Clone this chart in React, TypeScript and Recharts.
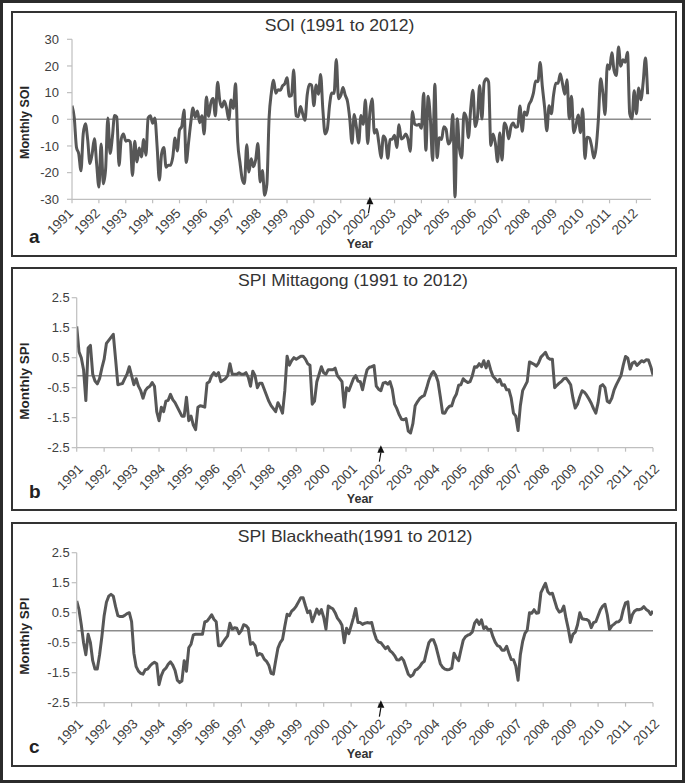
import React from "react";
import { LineChart, Line, XAxis, YAxis, ReferenceLine, ReferenceDot } from "recharts";

// year labels on the category axis, one every 12 monthly points
const years = [
  "1991", "1992", "1993", "1994", "1995", "1996", "1997", "1998", "1999", "2000", "2001",
  "2002", "2003", "2004", "2005", "2006", "2007", "2008", "2009", "2010", "2011", "2012",
];
const yearTicks = [0, 12, 24, 36, 48, 60, 72, 84, 96, 108, 120, 132, 144, 156, 168, 180, 192, 204, 216, 228, 240, 252];

// panel a: monthly SOI
const soiA = [
  5.1, 0.6, -10.6, -12.9, -19.3, -5.5, -1.7, -7.6, -16.6, -12.9, -7.3, -16.7,
  -25.4, -9.3, -24.2, -18.7, 0.5, -12.8, -6.9, 1.4, 0.8, -17.3, -7.3, -5.5,
  -8.2, -7.9, -8.5, -21.1, -8.2, -16.0, -10.8, -14.1, -7.6, -13.5, 0.6, 1.3,
  -1.5, 0.5, -10.2, -22.8, -12.9, -10.6, -18.0, -17.2, -17.2, -14.1, -7.0, -11.9,
  -4.0, -2.7, 3.5, -16.2, -9.0, -1.5, 4.2, 0.8, 3.1, -1.3, 1.3, -5.5,
  8.4, 1.1, 6.2, 7.8, 1.3, 13.9, 6.8, 4.6, 6.9, 4.2, -0.1, 7.2,
  4.1, 13.3, -8.5, -16.2, -22.4, -24.1, -9.5, -19.8, -14.8, -17.8, -15.2, -9.1,
  -23.5, -19.2, -28.5, -24.4, 0.5, 9.9, 14.6, 9.8, 11.1, 10.9, 12.5, 13.3,
];
const soiB = [
  15.6, 8.6, 8.9, 18.5, 1.3, 1.0, 4.8, 2.1, -0.4, 9.1, 13.1, 12.8,
  5.1, 12.9, 9.4, 16.8, 3.6, -5.5, -3.7, 5.3, 9.9, 9.7, 22.4, 7.7,
  8.9, 11.9, 9.0, 6.7, 0.3, -9.0, 1.8, -3.0, -8.9, 1.4, -1.9, 7.2,
  -9.1, 2.7, 7.7, -5.2, -3.8, -9.0, -14.5, -6.3, -7.6, -14.6, -7.6, -7.4,
  -6.0, -10.6, -2.0, -7.4, -6.8, -5.5, -7.4, -12.0, 2.9, -1.8, -2.2, -1.9,
  -3.4, 9.8, -11.6, 8.6, 0.2, -15.4, 13.1, -14.4, -6.9, -7.6, -2.8, -3.7,
  -9.3, -8.0, 1.8, -29.1, 0.2, -11.2, -14.5, 2.4, 0.8, -6.9, 3.9, 10.9,
];
const soiC = [
  -2.7, 0.6, 12.7, 0.1, 13.8, 15.2, 14.0, -9.8, -5.5, -8.9, -15.9, -5.1,
  -15.3, -1.4, -3.0, -7.3, -2.7, -1.4, -3.0, -2.7, 5.0, -4.5, 2.7, 1.5,
  5.4, 7.0, 9.8, 14.4, 14.1, 21.3, 12.2, 4.5, -4.3, 5.1, 2.1, 9.1,
  13.5, 13.5, 17.1, 13.3, 9.4, 14.8, 0.2, 8.6, -5.0, -2.3, 1.6, -5.0,
  3.9, -14.7, -6.7, -7.0, -10.1, -14.5, -10.6, 0.0, 15.2, 10.0, 1.8, 20.5,
  18.8, 25.0, 18.3, 16.4, 27.1, 19.9, 22.3, 21.4, 25.1, 2.1, 0.2, 10.7,
  2.1, 11.7, 7.3, 13.8, 23.0, 9.4,
];

// panel b: SPI Mittagong
const mitA = [
  1.54, 0.7, 0.5, 0.1, -0.93, 0.82, 0.91, -0.05, -0.28, -0.37, -0.2, 0.15,
  0.45, 0.98, 1.08, 1.18, 1.28, 0.45, -0.4, -0.38, -0.36, -0.2, -0.05, 0.2,
  -0.1, -0.4, -0.2, -0.45, -0.6, -0.85, -0.6, -0.5, -0.45, -0.33, -0.45, -1.3,
  -1.6, -1.15, -1.3, -0.95, -0.92, -0.72, -0.9, -1.0, -1.15, -1.3, -1.45, -1.45,
  -0.82, -1.6, -1.45, -1.75, -1.9, -1.15, -1.1, -1.12, -1.15, -0.35, -0.3, -0.1,
  0.0, -0.1, 0.0, -0.3, -0.25, -0.2, -0.1, 0.3, -0.05, -0.05, -0.05, 0.0,
  -0.05, -0.05, 0.0, -0.15, -0.45, 0.05, -0.1, -0.5, -0.35, -0.35, -0.55, -0.75,
  -0.95, -1.1, -1.2, -1.3, -1.0, -1.15, -1.35, -0.6, 0.55, 0.25, 0.4, 0.5,
];
const mitB = [
  0.45, 0.5, 0.55, 0.55, 0.45, 0.3, 0.25, -1.05, -0.95, -0.3, -0.05, 0.2,
  0.0, -0.05, 0.1, 0.1, 0.1, 0.15, -0.1, -0.2, -0.3, -1.15, -0.5, -0.6,
  -0.4, -0.2, -0.1, -0.28, -0.3, -0.57, -0.2, 0.1, 0.18, 0.2, 0.24, -0.45,
  -0.55, -0.6, -0.35, -0.32, -0.38, -0.3, -0.55, -1.05, -1.2, -1.4, -1.55, -1.57,
  -1.53, -1.95, -2.01, -1.7, -1.1, -0.97, -0.86, -0.8, -0.76, -0.52, -0.25, -0.06,
  0.04, -0.08, -0.3, -0.8, -1.34, -1.35, -1.2, -1.12, -1.1, -0.86, -0.72, -0.42,
  -0.4, -0.2, -0.28, -0.33, -0.3, -0.1, 0.2, 0.18, 0.3, 0.2, 0.4, 0.16,
];
const mitC = [
  0.38, 0.1, -0.12, -0.2, -0.31, -0.22, -0.42, -0.4, -0.57, -0.57, -0.85, -1.35,
  -1.45, -1.93, -1.1, -0.6, -0.45, -0.3, 0.36, 0.32, 0.28, 0.22, 0.33, 0.52,
  0.6, 0.68, 0.5, 0.45, 0.45, -0.5, -0.42, -0.35, -0.29, -0.2, -0.18, -0.28,
  -0.4, -0.85, -1.18, -1.05, -0.8, -0.6, -0.65, -0.75, -0.88, -1.02, -1.2, -1.35,
  -1.0, -0.45, -0.4, -0.5, -0.95, -1.0, -0.85, -0.57, -0.4, -0.25, -0.1, 0.25,
  0.54, 0.48, 0.12, 0.32, 0.36, 0.24, 0.32, 0.4, 0.36, 0.43, 0.42, 0.21, -0.07,
];

// panel c: SPI Blackheath
const blkA = [
  0.89, 0.6, 0.1, -0.5, -0.9, -0.22, -0.5, -1.1, -1.38, -1.38, -0.9, -0.3,
  0.4, 0.85, 1.05, 1.11, 1.05, 0.7, 0.4, 0.37, 0.37, 0.41, 0.47, 0.5,
  0.2, -0.85, -1.3, -1.45, -1.52, -1.55, -1.4, -1.38, -1.28, -1.2, -1.15, -1.2,
  -1.9, -1.6, -1.42, -1.35, -1.22, -1.14, -1.25, -1.42, -1.75, -1.83, -1.78, -1.1,
  -1.45, -0.67, -0.55, -0.24, -0.22, -0.22, -0.22, -0.22, 0.19, 0.22, 0.32, 0.43,
  0.28, 0.2, -0.6, -0.6, -0.48, -0.37, -0.27, 0.15, -0.05, 0.0, -0.02, -0.2,
  -0.1, 0.1, 0.07, -0.02, -0.55, -0.5, -0.6, -0.92, -0.86, -0.9, -1.05, -1.12,
  -1.25, -1.52, -1.55, -1.1, -0.68, -0.5, -0.39, 0.05, 0.45, 0.4, 0.55, 0.62,
];
const blkB = [
  0.72, 0.86, 1.0, 1.0, 0.74, 0.5, 0.56, 0.2, 0.4, 0.62, 0.45, 0.6,
  0.35, -0.05, 0.72, 0.67, 0.63, 0.5, 0.32, 0.22, 0.08, -0.5, -0.02, -0.2,
  0.06, 0.33, 0.64, 0.17, 0.17, 0.11, 0.15, 0.17, 0.16, 0.17, -0.15, -0.38,
  -0.48, -0.5, -0.6, -0.7, -0.63, -0.77, -0.83, -0.93, -1.07, -1.08, -1.0, -1.1,
  -1.33, -1.55, -1.63, -1.58, -1.42, -1.38, -1.3, -1.18, -1.12, -0.8, -0.5, -0.4,
  -0.4, -0.6, -0.9, -1.2, -1.32, -1.38, -1.4, -1.39, -1.35, -0.85, -1.0, -1.1,
  -0.75, -0.42, -0.3, -0.25, -0.22, -0.14, 0.15, 0.26, 0.11, 0.26, -0.03, 0.03,
];
const blkC = [
  -0.08, -0.05, -0.3, -0.48, -0.6, -0.63, -0.75, -0.75, -0.62, -0.85, -1.06, -1.07,
  -1.28, -1.75, -0.9, -0.46, -0.19, -0.08, 0.5, 0.48, 0.6, 0.48, 0.5, 1.17,
  1.33, 1.48, 1.2, 1.12, 1.15, 0.9, 0.65, 0.52, 0.55, 0.72, 0.3, -0.05,
  -0.48, -0.22, -0.15, 0.1, 0.5, 0.3, 0.28, 0.27, 0.22, 0.0, 0.17, 0.2,
  0.4, 0.6, 0.72, 0.78, 0.44, -0.06, 0.06, 0.12, 0.19, 0.2, 0.28, 0.6,
  0.83, 0.86, 0.17, 0.44, 0.56, 0.61, 0.6, 0.63, 0.7, 0.61, 0.56, 0.44, 0.56,
];

const soiTicks = [-30, -20, -10, 0, 10, 20, 30];
const spiTicks = [-2.5, -1.5, -0.5, 0.5, 1.5, 2.5];

const FONT = "'Liberation Sans', Arial, sans-serif";
const LINE = "#575757";
const AXIS = "#bfbfbf";
const W = 685;
const H = 783;

const toRows = (vals: number[]) => vals.map((v, i) => ({ i, v }));

function makeYearTick(dx: number, dy: number) {
  return function YearTick(props: any) {
    const { x, y, payload } = props;
    const label = years[yearTicks.indexOf(payload.value)];
    return (
      <g transform={`translate(${x + dx},${y + dy})`}>
        <text textAnchor="end" transform="rotate(-45)" fontSize={13.5} fill="#404040" fontFamily={FONT}>
          {label}
        </text>
      </g>
    );
  };
}

function ArrowMark(props: any) {
  const { cx, cy } = props;
  return (
    <g>
      <path d={`M${cx},${cy - 2.5} L${cx + 3.5},${cy + 5} L${cx - 3.5},${cy + 5} Z`} fill="#111" />
      <line x1={cx} y1={cy + 5} x2={cx - 1.5} y2={cy + 14} stroke="#111" strokeWidth={1.2} />
    </g>
  );
}

interface PanelProps {
  data: { i: number; v: number }[];
  plot: { left: number; right: number; top: number; bottom: number };
  xMax: number;
  domain: [number, number];
  yTicks: number[];
  refY: number;
  tickMargin: number;
  labelShift: [number, number];
  curve: "monotone" | "linear";
}

function Panel({ data, plot, xMax, domain, yTicks, refY, tickMargin, labelShift, curve }: PanelProps) {
  const xh = 50;
  const YearTick = makeYearTick(labelShift[0], labelShift[1]);
  return (
    <div style={{ position: "absolute", left: 0, top: 0 }}>
      <LineChart
        width={W}
        height={plot.bottom + xh + 10}
        data={data}
        margin={{ top: plot.top, right: W - plot.right, bottom: 10, left: 0 }}
      >
        <XAxis
          type="number"
          dataKey="i"
          domain={[0, xMax]}
          ticks={yearTicks}
          interval={0}
          allowDataOverflow
          height={xh}
          tickSize={4}
          axisLine={{ stroke: AXIS, strokeWidth: 1.2 }}
          tickLine={{ stroke: AXIS, strokeWidth: 1.2 }}
          tick={<YearTick />}
        />
        <YAxis
          type="number"
          domain={domain}
          ticks={yTicks}
          interval={0}
          allowDataOverflow
          width={plot.left}
          tickSize={5}
          tickMargin={tickMargin}
          axisLine={{ stroke: AXIS, strokeWidth: 1.2 }}
          tickLine={{ stroke: AXIS, strokeWidth: 1.2 }}
          tick={{ fill: "#404040", fontSize: 13, fontFamily: FONT }}
        />
        <ReferenceLine y={refY} stroke="#8c8c8c" strokeWidth={1.5} />
        <Line
          type={curve}
          dataKey="v"
          stroke={LINE}
          strokeWidth={3}
          dot={false}
          strokeLinejoin="round"
          isAnimationActive={false}
        />
        <ReferenceDot x={133} y={domain[0]} ifOverflow="visible" shape={ArrowMark} />
      </LineChart>
    </div>
  );
}

const frames = [
  { top: 11, bottom: 257 },
  { top: 267, bottom: 511 },
  { top: 522, bottom: 767 },
];

const texts = [
  { title: "SOI (1991 to 2012)", tx: 339.5, ty: 31, letter: "a", ly: 243, yearY: 248, ylab: "Monthly SOI", yx: 25, yy: 122.5, yf: 12.5 },
  { title: "SPI Mittagong (1991 to 2012)", tx: 353, ty: 286, letter: "b", ly: 498, yearY: 503, ylab: "Monthly SPI", yx: 24, yy: 381, yf: 13.5 },
  { title: "SPI Blackheath(1991 to 2012)", tx: 355, ty: 541.5, letter: "c", ly: 753, yearY: 757.5, ylab: "Monthly SPI", yx: 24, yy: 636, yf: 13.5 },
];

export default function App() {
  return (
    <div
      style={{
        position: "absolute",
        left: 0,
        top: 0,
        width: W,
        height: H,
        boxSizing: "border-box",
        border: "3px solid #2b2b2b",
        background: "#fff",
        overflow: "hidden",
      }}
    >
      <div style={{ position: "absolute", left: -3, top: -3, width: W, height: H }}>
        {frames.map((f, k) => (
          <div
            key={k}
            style={{
              position: "absolute",
              left: 11,
              top: f.top,
              width: 666,
              height: f.bottom - f.top,
              boxSizing: "border-box",
              border: "2px solid #333",
            }}
          />
        ))}
        <Panel
          data={toRows([...soiA, ...soiB, ...soiC])}
          plot={{ left: 72, right: 651, top: 39.3, bottom: 199.3 }}
          xMax={258.5}
          domain={[-30, 30]}
          yTicks={soiTicks}
          refY={0}
          tickMargin={8}
          labelShift={[2, 9]}
          curve="monotone"
        />
        <Panel
          data={toRows([...mitA, ...mitB, ...mitC])}
          plot={{ left: 76.7, right: 653, top: 297.7, bottom: 447.7 }}
          xMax={252}
          domain={[-2.5, 2.5]}
          yTicks={spiTicks}
          refY={-0.1}
          tickMargin={2}
          labelShift={[7, 16]}
          curve="linear"
        />
        <Panel
          data={toRows([...blkA, ...blkB, ...blkC])}
          plot={{ left: 76.7, right: 653, top: 552.7, bottom: 702.7 }}
          xMax={252}
          domain={[-2.5, 2.5]}
          yTicks={spiTicks}
          refY={-0.1}
          tickMargin={2}
          labelShift={[7, 16]}
          curve="linear"
        />
        <svg width={W} height={H} style={{ position: "absolute", left: 0, top: 0, pointerEvents: "none" }}>
          {texts.map((t) => (
            <g key={t.letter} fontFamily={FONT}>
              <g transform={`translate(${t.tx},${t.ty}) scale(1.08,1)`}>
                <text x={0} y={0} textAnchor="middle" fontSize={16.3} fill="#333">
                  {t.title}
                </text>
              </g>
              <text x={29} y={t.ly} fontSize={19} fontWeight="bold" fill="#222">
                {t.letter}
              </text>
              <text x={360} y={t.yearY} textAnchor="middle" fontSize={12.5} fontWeight="bold" fill="#333">
                Year
              </text>
              <text
                x={t.yx}
                y={t.yy}
                textAnchor="middle"
                dominantBaseline="central"
                transform={`rotate(-90 ${t.yx} ${t.yy})`}
                fontSize={t.yf}
                fontWeight="bold"
                fill="#262626"
              >
                {t.ylab}
              </text>
            </g>
          ))}
        </svg>
      </div>
    </div>
  );
}
